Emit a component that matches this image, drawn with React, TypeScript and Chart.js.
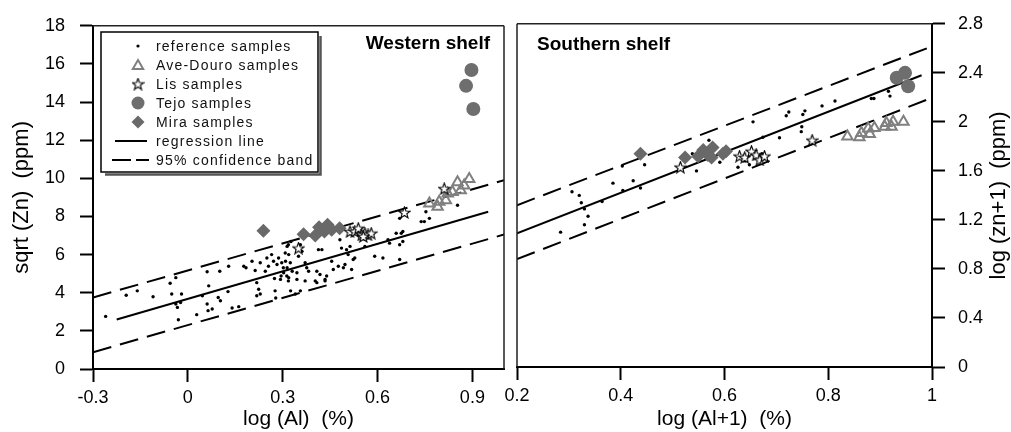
import React, { useEffect, useRef } from 'react';
import { Chart, registerables } from 'chart.js';

Chart.register(...registerables);

const FONT = '"Liberation Sans", Arial, Helvetica, sans-serif';

type P = [number, number];

// ---------------- Western shelf (left panel) ----------------
const W_REFERENCE: P[] = [
  [-0.26, 2.76], [-0.195, 3.87], [-0.16, 4.1], [-0.11, 3.79], [-0.056, 4.5], [-0.038, 4.79],
  [-0.051, 3.93], [-0.02, 3.93], [-0.038, 3.41], [-0.033, 3.23], [-0.023, 3.49], [-0.03, 2.58],
  [0.028, 2.85], [0.046, 3.84], [0.061, 5.1], [0.066, 4.36], [0.061, 3.41], [0.064, 3.06],
  [0.077, 3.15], [0.101, 5.13], [0.103, 3.58], [0.096, 3.75], [0.129, 5.39], [0.127, 4.06],
  [0.14, 3.2], [0.161, 3.27], [0.177, 5.39], [0.184, 5.31], [0.203, 5.65], [0.213, 5.17],
  [0.218, 4.53], [0.224, 4.18], [0.229, 3.93], [0.218, 3.84], [0.229, 5.57], [0.245, 5.13],
  [0.25, 5.82], [0.255, 5.39], [0.265, 6.0], [0.271, 5.65], [0.274, 4.75], [0.276, 4.1],
  [0.278, 3.72], [0.287, 5.82], [0.297, 5.57], [0.302, 5.31], [0.295, 4.88], [0.313, 4.88],
  [0.318, 4.62], [0.325, 4.1], [0.318, 6.52], [0.326, 6.69], [0.314, 6.43], [0.319, 6.0],
  [0.309, 5.65], [0.324, 5.57], [0.314, 5.31], [0.33, 5.13], [0.345, 5.05], [0.319, 4.79],
  [0.345, 4.7], [0.356, 4.1], [0.34, 3.93], [0.356, 6.52], [0.361, 6.17], [0.35, 5.91],
  [0.371, 5.57], [0.382, 5.13], [0.376, 5.31], [0.408, 5.13], [0.403, 4.62], [0.418, 4.96],
  [0.413, 6.26], [0.424, 6.26], [0.434, 4.7], [0.439, 4.88], [0.455, 5.65], [0.46, 5.22],
  [0.476, 5.39], [0.492, 5.31], [0.497, 5.48], [0.481, 6.78], [0.486, 6.34], [0.502, 6.26],
  [0.513, 6.43], [0.507, 6.0], [0.523, 5.74], [0.528, 5.82], [0.518, 5.22], [0.56, 6.43],
  [0.591, 5.91], [0.617, 5.82], [0.633, 6.78], [0.638, 6.6], [0.659, 7.12], [0.675, 7.12],
  [0.68, 7.21], [0.68, 6.69], [0.67, 6.52], [0.67, 5.74], [0.67, 7.9], [0.738, 7.73],
  [0.748, 7.73], [0.764, 7.9], [0.753, 8.25], [0.853, 8.59], [0.371, 4.62], [0.408, 4.53],
  [0.434, 4.62], [0.303, 5.05], [0.293, 4.7], [0.282, 5.48], [0.308, 6.08],
];
const W_AVE_DOURO: P[] = [
  [0.764, 8.68], [0.79, 8.51], [0.795, 8.77], [0.816, 8.85], [0.822, 9.2], [0.837, 9.28],
  [0.853, 9.8], [0.863, 9.37], [0.874, 9.63], [0.89, 9.97],
];
const W_LIS: P[] = [
  [0.35, 6.34], [0.513, 7.21], [0.528, 7.21], [0.539, 7.38], [0.55, 7.04], [0.56, 7.12],
  [0.57, 7.04], [0.58, 7.12], [0.555, 6.95], [0.685, 8.21], [0.811, 9.46],
];
const W_TEJO: P[] = [[0.897, 15.68], [0.88, 14.85], [0.903, 13.64]];
const W_MIRA: P[] = [
  [0.239, 7.25], [0.366, 7.07], [0.403, 7.0], [0.415, 7.44], [0.442, 7.56], [0.432, 7.21],
  [0.455, 7.3], [0.48, 7.38],
];
const W_REGRESSION: P[] = [[-0.225, 2.6], [0.95, 8.25]];
const W_UPPER: P[] = [[-0.3, 3.75], [1.0, 9.9]];
const W_LOWER: P[] = [[-0.3, 0.88], [1.0, 7.05]];
const W_X_TICKS = [-0.3, 0, 0.3, 0.6, 0.9];
const W_Y_TICKS = [0, 2, 4, 6, 8, 10, 12, 14, 16, 18];

// ---------------- Southern shelf (right panel) ----------------
const S_REFERENCE: P[] = [
  [0.284, 1.1], [0.306, 1.43], [0.32, 1.4], [0.324, 1.34], [0.33, 1.29], [0.337, 1.23],
  [0.33, 1.16], [0.364, 1.35], [0.385, 1.5], [0.404, 1.44], [0.403, 1.64], [0.424, 1.52],
  [0.438, 1.46], [0.446, 1.65], [0.546, 1.6], [0.538, 1.74], [0.57, 1.85], [0.591, 1.67],
  [0.626, 1.63], [0.648, 1.65], [0.655, 2.0], [0.674, 1.875], [0.706, 1.87], [0.719, 2.05],
  [0.724, 2.08], [0.748, 1.92], [0.749, 1.96], [0.751, 2.06], [0.755, 2.09], [0.788, 2.13],
  [0.813, 2.17], [0.883, 2.19], [0.888, 2.19], [0.916, 2.25], [0.919, 2.21], [0.64, 1.68],
  [0.668, 1.7], [0.672, 1.74],
];
const S_AVE_DOURO: P[] = [
  [0.837, 1.88], [0.86, 1.875], [0.864, 1.91], [0.88, 1.9], [0.877, 1.945], [0.889, 1.95],
  [0.909, 1.96], [0.912, 1.99], [0.922, 1.96], [0.925, 2.0], [0.945, 2.0],
];
const S_LIS: P[] = [
  [0.515, 1.63], [0.629, 1.72], [0.639, 1.71], [0.652, 1.76], [0.661, 1.73], [0.668, 1.69],
  [0.677, 1.72], [0.769, 1.85],
];
const S_TEJO: P[] = [[0.932, 2.36], [0.948, 2.4], [0.954, 2.29]];
const S_MIRA: P[] = [
  [0.438, 1.74], [0.524, 1.71], [0.549, 1.72], [0.559, 1.77], [0.568, 1.73], [0.577, 1.79],
  [0.575, 1.71], [0.597, 1.74], [0.603, 1.76],
];
const S_REGRESSION: P[] = [[0.2, 1.09], [0.98, 2.38]];
const S_UPPER: P[] = [[0.2, 1.32], [0.99, 2.6]];
const S_LOWER: P[] = [[0.2, 0.88], [0.99, 2.18]];
const S_X_TICKS = [0.2, 0.4, 0.6, 0.8, 1];
const S_Y_TICKS = [0, 0.4, 0.8, 1.2, 1.6, 2, 2.4, 2.8];

const LEGEND_LABELS = [
  'reference samples',
  'Ave-Douro samples',
  'Lis samples',
  'Tejo samples',
  'Mira samples',
  'regression line',
  '95% confidence band',
];

const GREY_FILL = '#6e6e6e';
const TRI_COLOR = '#808080';
const DASH = [19, 9];

const toXY = (arr: P[]) => arr.map(([x, y]) => ({ x, y }));

function makeStar(size: number, outer: number, inner: number): HTMLCanvasElement {
  const c = document.createElement('canvas');
  c.width = size;
  c.height = size;
  const ctx = c.getContext('2d')!;
  const cx = size / 2;
  const cy = size / 2 + 0.5;
  ctx.beginPath();
  for (let i = 0; i < 10; i++) {
    const r = i % 2 === 0 ? outer : inner;
    const a = -Math.PI / 2 + (i * Math.PI) / 5;
    const px = cx + r * Math.cos(a);
    const py = cy + r * Math.sin(a);
    if (i === 0) ctx.moveTo(px, py);
    else ctx.lineTo(px, py);
  }
  ctx.closePath();
  ctx.fillStyle = '#fff';
  ctx.fill();
  ctx.lineWidth = 1.1;
  ctx.strokeStyle = '#000';
  ctx.stroke();
  return c;
}

function buildDatasets(
  ref: P[], ave: P[], lis: P[], tejo: P[], mira: P[],
  reg: P[], up: P[], lo: P[], star: HTMLCanvasElement,
) {
  const line = (data: P[], dash: number[]) => ({
    data: toXY(data),
    showLine: true,
    borderColor: '#000',
    backgroundColor: '#000',
    borderWidth: 2,
    borderDash: dash,
    pointRadius: 0,
    pointHoverRadius: 0,
    fill: false,
    order: 6,
  });
  return [
    {
      label: LEGEND_LABELS[0], data: toXY(ref), pointStyle: 'circle', pointRadius: 1.7,
      backgroundColor: '#000', borderColor: '#000', borderWidth: 0, order: 7,
    },
    {
      label: LEGEND_LABELS[1], data: toXY(ave), pointStyle: 'triangle', pointRadius: 6,
      backgroundColor: 'rgba(0,0,0,0)', borderColor: TRI_COLOR, borderWidth: 2, order: 3,
    },
    {
      label: LEGEND_LABELS[2], data: toXY(lis), pointStyle: star, pointRadius: 6,
      backgroundColor: '#fff', borderColor: '#000', borderWidth: 1, order: 2,
    },
    {
      label: LEGEND_LABELS[3], data: toXY(tejo), pointStyle: 'circle', pointRadius: 7,
      backgroundColor: GREY_FILL, borderColor: GREY_FILL, borderWidth: 0, order: 1,
    },
    {
      label: LEGEND_LABELS[4], data: toXY(mira), pointStyle: 'rectRot', pointRadius: 7,
      backgroundColor: '#696969', borderColor: '#696969', borderWidth: 0, order: 4,
    },
    { label: LEGEND_LABELS[5], ...line(reg, []) },
    { label: LEGEND_LABELS[6], ...line(up, DASH) },
    { label: LEGEND_LABELS[6] + ' lower', ...line(lo, DASH) },
  ];
}

const tickFont = { family: FONT, size: 18 };

function xScale(min: number, max: number, ticks: number[], title: string, height: number) {
  return {
    type: 'linear' as const,
    position: 'bottom' as const,
    min,
    max,
    afterBuildTicks: (s: any) => { s.ticks = ticks.map((value) => ({ value })); },
    afterFit: (s: any) => { s.height = height; },
    ticks: {
      font: tickFont, color: '#000', padding: 5, maxRotation: 0, autoSkip: false,
      callback: (v: any) => String(v),
    },
    grid: { display: true, drawOnChartArea: false, drawTicks: true, tickLength: 13, tickColor: '#000', tickWidth: 2 },
    border: { display: true, color: '#000', width: 2 },
    title: { display: true, text: title, font: { family: FONT, size: 21 }, color: '#000', padding: { top: 0, bottom: 0 } },
  };
}

function yScale(
  min: number, max: number, ticks: number[], position: 'left' | 'right', width: number,
  padding: number, title: string | null,
) {
  return {
    type: 'linear' as const,
    position,
    min,
    max,
    afterBuildTicks: (s: any) => { s.ticks = ticks.map((value) => ({ value })); },
    afterFit: (s: any) => { s.width = width; },
    ticks: { font: tickFont, color: '#000', padding, autoSkip: false, callback: (v: any) => String(v) },
    grid: { display: true, drawOnChartArea: false, drawTicks: true, tickLength: 13, tickColor: '#000', tickWidth: 2 },
    border: { display: true, color: '#000', width: 2 },
    title: title
      ? { display: true, text: title, font: { family: FONT, size: 22 }, color: '#000', padding: { top: 9, bottom: 0 } }
      : { display: false },
  };
}

function drawLegend(ctx: CanvasRenderingContext2D, star: HTMLCanvasElement) {
  const x0 = 101, y0 = 32, w = 217, h = 140;
  ctx.save();
  ctx.fillStyle = '#fff';
  ctx.fillRect(x0, y0, w, h);
  ctx.strokeStyle = '#555';
  ctx.lineWidth = 2.5;
  ctx.beginPath();
  ctx.moveTo(x0 + 4, y0 + h + 2.5);
  ctx.lineTo(x0 + w + 2.5, y0 + h + 2.5);
  ctx.lineTo(x0 + w + 2.5, y0 + 4);
  ctx.stroke();
  ctx.strokeStyle = '#000';
  ctx.lineWidth = 1.5;
  ctx.strokeRect(x0, y0, w, h);

  const cx = 138;
  const tx = 156;
  const rowY = (i: number) => 46 + i * 19;

  let y = rowY(0);
  ctx.fillStyle = '#000';
  ctx.beginPath(); ctx.arc(cx, y, 1.6, 0, Math.PI * 2); ctx.fill();

  y = rowY(1);
  ctx.strokeStyle = TRI_COLOR; ctx.lineWidth = 2;
  ctx.beginPath();
  for (let k = 0; k < 3; k++) {
    const a = -Math.PI / 2 + (k * 2 * Math.PI) / 3;
    const px = cx + 6 * Math.cos(a), py = y + 1 + 6 * Math.sin(a);
    if (k === 0) ctx.moveTo(px, py); else ctx.lineTo(px, py);
  }
  ctx.closePath(); ctx.stroke();

  y = rowY(2);
  ctx.drawImage(star, cx - star.width / 2, y - star.height / 2);

  y = rowY(3);
  ctx.fillStyle = GREY_FILL;
  ctx.beginPath(); ctx.arc(cx, y, 6.5, 0, Math.PI * 2); ctx.fill();

  y = rowY(4);
  ctx.fillStyle = '#696969';
  ctx.beginPath();
  ctx.moveTo(cx, y - 6.5); ctx.lineTo(cx + 6.5, y); ctx.lineTo(cx, y + 6.5); ctx.lineTo(cx - 6.5, y);
  ctx.closePath(); ctx.fill();

  y = rowY(5);
  ctx.strokeStyle = '#000'; ctx.lineWidth = 2;
  ctx.beginPath(); ctx.moveTo(115, y); ctx.lineTo(147, y); ctx.stroke();

  y = rowY(6);
  ctx.setLineDash([19, 5]);
  ctx.beginPath(); ctx.moveTo(112, y); ctx.lineTo(149, y); ctx.stroke();
  ctx.setLineDash([]);

  ctx.fillStyle = '#111';
  ctx.font = `14px ${FONT}`;
  (ctx as any).letterSpacing = '1.2px';
  ctx.textAlign = 'left';
  ctx.textBaseline = 'middle';
  LEGEND_LABELS.forEach((t, i) => ctx.fillText(t, tx, rowY(i) + 1));
  ctx.restore();
}

function frameLines(sides: ('top' | 'right' | 'left')[]) {
  return {
    id: 'frame',
    afterDatasetsDraw(chart: any) {
      const { ctx, chartArea } = chart;
      const { left, right, top, bottom } = chartArea;
      ctx.save();
      ctx.strokeStyle = '#222';
      ctx.lineWidth = 1.5;
      ctx.beginPath();
      if (sides.includes('top')) { ctx.moveTo(left, top); ctx.lineTo(right, top); }
      if (sides.includes('right')) { ctx.moveTo(right, top); ctx.lineTo(right, bottom); }
      if (sides.includes('left')) { ctx.moveTo(left, top); ctx.lineTo(left, bottom); }
      ctx.stroke();
      ctx.restore();
    },
  };
}

const LEFT_W = 512;
const RIGHT_X = 480;
const RIGHT_W = 1011 - RIGHT_X;

export default function App() {
  const leftRef = useRef<HTMLCanvasElement | null>(null);
  const rightRef = useRef<HTMLCanvasElement | null>(null);

  useEffect(() => {
    const star = makeStar(13, 6, 2.5);
    const common = {
      responsive: false,
      animation: false as const,
      events: [] as any[],
      plugins: { legend: { display: false }, tooltip: { enabled: false }, title: { display: false } },
    };

    const left = new Chart(leftRef.current!, {
      type: 'scatter',
      data: { datasets: buildDatasets(W_REFERENCE, W_AVE_DOURO, W_LIS, W_TEJO, W_MIRA, W_REGRESSION, W_UPPER, W_LOWER, star) as any },
      options: {
        ...common,
        layout: { padding: { left: 0, top: 21, right: LEFT_W - 507, bottom: 0 } },
        scales: {
          x: xScale(-0.3, 1.0, W_X_TICKS, 'log (Al)  (%)', 63),
          y: yScale(0, 18, W_Y_TICKS, 'left', 93, 15, 'sqrt (Zn)  (ppm)'),
        } as any,
      },
      plugins: [
        frameLines(['top', 'right']),
        {
          id: 'westernDeco',
          afterDraw(chart: any) {
            const ctx = chart.ctx as CanvasRenderingContext2D;
            drawLegend(ctx, star);
            ctx.save();
            ctx.fillStyle = '#000';
            ctx.font = `bold 19px ${FONT}`;
            ctx.textAlign = 'right';
            ctx.textBaseline = 'alphabetic';
            ctx.fillText('Western shelf', chart.chartArea.right - 14, 49);
            ctx.restore();
          },
        },
      ],
    });

    const right = new Chart(rightRef.current!, {
      type: 'scatter',
      data: { datasets: buildDatasets(S_REFERENCE, S_AVE_DOURO, S_LIS, S_TEJO, S_MIRA, S_REGRESSION, S_UPPER, S_LOWER, star) as any },
      options: {
        ...common,
        layout: { padding: { left: 517 - RIGHT_X, top: 21, right: 0, bottom: 0 } },
        scales: {
          x: xScale(0.2, 1.0, S_X_TICKS, 'log (Al+1)  (%)', 65),
          y: yScale(0, 2.8, S_Y_TICKS, 'right', RIGHT_W - (932 - RIGHT_X), 13, null),
        } as any,
      },
      plugins: [
        frameLines(['top', 'left']),
        {
          id: 'southernDeco',
          afterDraw(chart: any) {
            const ctx = chart.ctx as CanvasRenderingContext2D;
            const { left, top, bottom } = chart.chartArea;
            ctx.save();
            ctx.fillStyle = '#000';
            ctx.font = `bold 19px ${FONT}`;
            ctx.textAlign = 'left';
            ctx.textBaseline = 'alphabetic';
            ctx.fillText('Southern shelf', left + 20, 50);
            ctx.font = `22px ${FONT}`;
            ctx.textAlign = 'center';
            ctx.textBaseline = 'middle';
            ctx.translate(999 - RIGHT_X, (top + bottom) / 2);
            ctx.rotate(-Math.PI / 2);
            ctx.fillText('log (zn+1)  (ppm)', 0, 0);
            ctx.restore();
          },
        },
      ],
    });

    return () => {
      left.destroy();
      right.destroy();
    };
  }, []);

  return (
    <div style={{ position: 'absolute', left: 0, top: 0, width: 1011, height: 432, background: '#fff', overflow: 'hidden' }}>
      <canvas ref={leftRef} width={LEFT_W} height={432} style={{ position: 'absolute', left: 0, top: 0 }} />
      <canvas ref={rightRef} width={RIGHT_W} height={432} style={{ position: 'absolute', left: RIGHT_X, top: 0 }} />
    </div>
  );
}
